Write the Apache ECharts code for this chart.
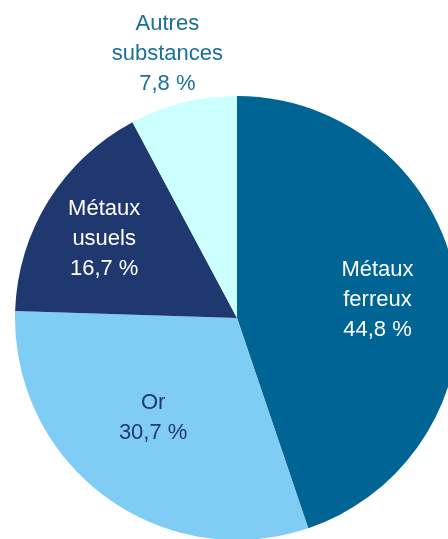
<!DOCTYPE html>
<html>
<head>
<meta charset="utf-8">
<style>
html,body{margin:0;padding:0;background:#fff;}
#main{width:448px;height:539px;}
</style>
<script src="https://cdn.jsdelivr.net/npm/echarts@6/dist/echarts.min.js"></script>
</head>
<body>
<div id="main"></div>
<script>
const categories = ['Métaux\nferreux', 'Or', 'Métaux\nusuels', 'Autres\nsubstances'];
const values = [44.8, 30.7, 16.7, 7.8];
const colors = ['#006594', '#7FCDF5', '#1F3870', '#CCFFFF'];
const labelColors = ['#FFFFFF', '#1F3870', '#FFFFFF', '#1A6E99'];
const labelShift = [[28, 0], [-16, 8], [-36, -19], [-42, -153]];

const chart = echarts.init(document.getElementById('main'), null, {renderer: 'canvas'});
chart.setOption({
  animation: false,
  series: [{
    type: 'pie',
    center: [237, 318],
    radius: [0, 222],
    startAngle: 90,
    clockwise: true,
    avoidLabelOverlap: false,
    label: {
      show: true,
      position: 'inside',
      fontFamily: 'Liberation Sans, Arial, sans-serif',
      fontSize: 22,
      lineHeight: 30,
      formatter: p => p.name + '\n' + p.value.toFixed(1).replace('.', ',') + ' %'
    },
    labelLine: {show: false},
    labelLayout: p => ({dx: labelShift[p.dataIndex][0], dy: labelShift[p.dataIndex][1]}),
    itemStyle: {borderWidth: 0},
    emphasis: {disabled: true},
    data: categories.map((c, i) => ({
      name: c,
      value: values[i],
      itemStyle: {color: colors[i]},
      label: {color: labelColors[i]}
    }))
  }]
});
</script>
</body>
</html>
